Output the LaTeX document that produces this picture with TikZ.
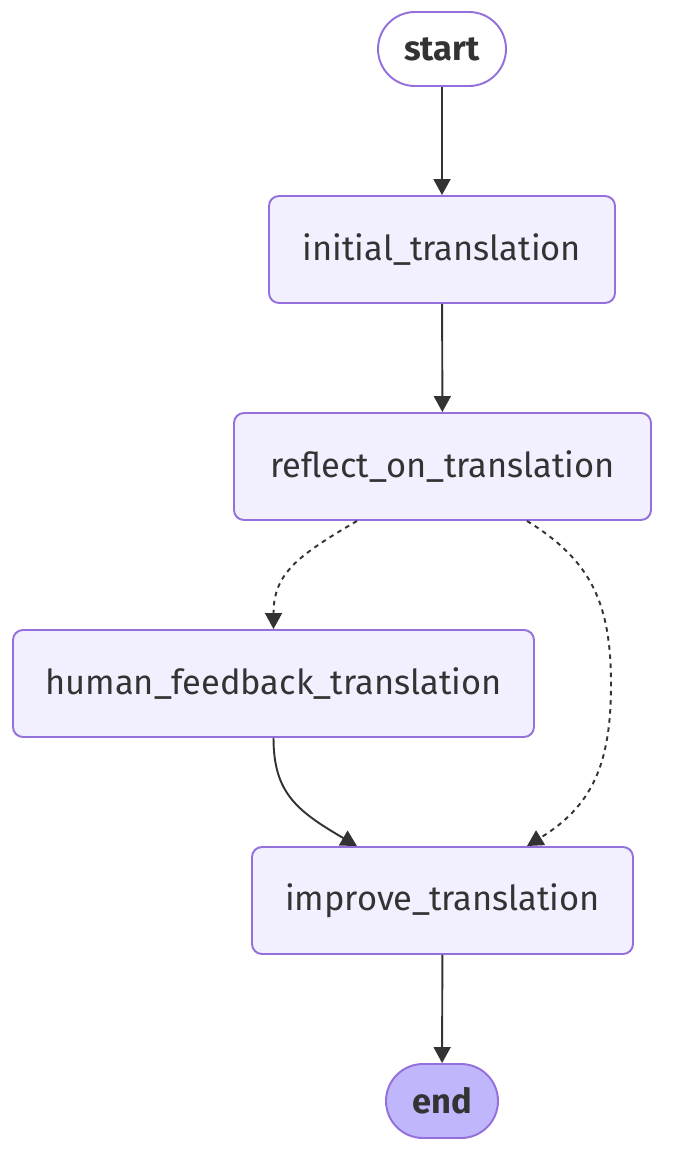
\documentclass[tikz,border=0pt]{standalone}
\usepackage{fontspec}
\setmainfont{Fira Sans}
\usepackage{xcolor}
\usepackage{tikz}
\usetikzlibrary{arrows.meta,positioning,calc}

\definecolor{nodefill}{HTML}{F2F0FF}
\definecolor{nodeline}{HTML}{9370DB}
\definecolor{endfill}{HTML}{BFB6FC}
\definecolor{inkgray}{HTML}{333333}

\begin{document}
\begin{tikzpicture}[
    stepnode/.style={rectangle, draw=nodeline, fill=nodefill, line width=1.1pt,
        rounded corners=0.2cm, minimum height=2.14cm, text=inkgray,
        font=\fontsize{19.6}{23}\selectfont},
    termnode/.style={rectangle, draw=nodeline, line width=1.1pt,
        rounded corners=0.74cm, minimum height=1.48cm, text=inkgray,
        font=\fontsize{19.6}{23}\selectfont\bfseries},
    arrow/.style={-{Triangle[length=0.32cm, width=0.34cm]}, draw=inkgray,
        line width=1.1pt},
    condarrow/.style={arrow, dash pattern=on 2.6pt off 2.6pt}
]
\useasboundingbox (0,0) rectangle (13.46,-23.06);

% graph nodes
\node[termnode, fill=white, minimum width=2.56cm] (start) at (8.84,-0.98) {start};
\node[stepnode, minimum width=6.92cm] (initial) at (8.84,-4.99) {initial\_translation};
\node[stepnode, minimum width=8.34cm] (reflect) at (8.85,-9.33) {reflect\_on\_translation};
\node[stepnode, minimum width=10.42cm] (human) at (5.47,-13.67) {human\_feedback\_translation};
\node[stepnode, minimum width=7.62cm] (improve) at (8.85,-18.01) {improve\_translation};
\node[termnode, fill=endfill, minimum width=2.24cm] (end) at (8.84,-22.02) {end};

% straight transitions
\draw[arrow] (start) -- (initial);
\draw[arrow] (initial) -- (reflect);
\draw[arrow] (improve) -- (end);

% conditional transitions
\draw[condarrow] ([xshift=-1.71cm]reflect.south) .. controls +(-1.2,-0.7) and +(0,1.1) .. (human.north);
\draw[condarrow] ([xshift=1.69cm]reflect.south) .. controls +(1.3,-0.8) and +(0,1.6) .. ++(1.68,-3.27)
    .. controls +(0,-1.6) and +(1.3,0.8) .. ([xshift=1.69cm]improve.north);

% back into the improve step
\draw[arrow] (human.south) .. controls +(0,-1.1) and +(-1.2,0.7) .. ([xshift=-1.71cm]improve.north);

\end{tikzpicture}
\end{document}
